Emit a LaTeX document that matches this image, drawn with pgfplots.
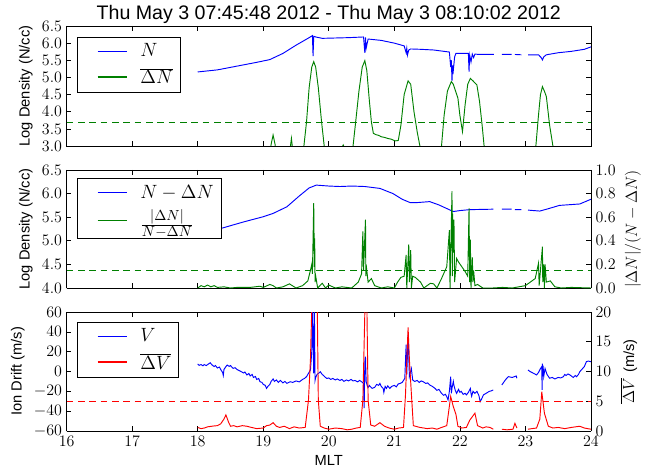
\documentclass[border=0pt]{standalone}
\usepackage{fontspec}
\newfontfamily\sans{Liberation Sans}
\usepackage{pgfplots}
\pgfplotsset{compat=1.18}
\definecolor{mblue}{RGB}{0,0,255}
\definecolor{mgreen}{RGB}{0,128,0}
\definecolor{mred}{RGB}{255,0,0}

\pgfplotsset{
  panel/.style={
    scale only axis, width=393.2pt,
    xmin=16, xmax=24, xtick={16,17,...,24},
    tick align=inside, major tick length=3.5pt,
    every tick/.style={black, line width=0.5pt},
    axis line style={line width=0.6pt},
    tick label style={font=\fontsize{12}{14}\selectfont},
    label style={font=\sans\fontsize{11}{13}\selectfont},
    unbounded coords=jump,
    every axis plot/.append style={line width=0.7pt},
    legend cell align=left,
    legend style={draw=black, line width=0.6pt, fill=white,
      font=\fontsize{15.5}{18}\selectfont, anchor=north west,
      inner xsep=5.5pt, inner ysep=4pt, row sep=5pt,
      nodes={inner xsep=0pt, inner ysep=1pt}},
    legend image code/.code={\draw[#1, line width=1.2pt] (0pt,0pt) -- (22pt,0pt);
      \path[draw=none, fill=none] (-10pt,0pt) -- (32pt,0pt);},
  },
  onedec/.style={yticklabel style={/pgf/number format/.cd, fixed, fixed zerofill, precision=1}},
}

\begin{document}
\begin{tikzpicture}

% ---------- top: N and mean dN ----------
\begin{axis}[panel, onedec, at={(50pt,243.75pt)}, anchor=south west, height=90pt,
  ymin=3, ymax=6.5, ytick={3,3.5,4,4.5,5,5.5,6,6.5}, xticklabels={},
  ylabel={Log Density (N/cc)},
  title={Thu May 3 07:45:48 2012 - Thu May 3 08:10:02 2012},
  every axis title/.style={at={(0.5,1)}, anchor=base, yshift=4.5pt,
    font=\sans\fontsize{14.7}{17}\selectfont},
  legend style={at={(0.019,0.911)}}]
\addplot[mblue, forget plot] coordinates {
(18.0,5.16)(18.3,5.22)(18.6,5.33)(18.9,5.44)(19.1,5.52)(19.3,5.70)(19.5,5.94)
(19.7,6.16)(19.75,6.22)(19.76,5.62)(19.77,6.20)(19.8,6.18)(19.9,6.14)(20.1,6.15)
(20.3,6.16)(20.53,6.18)(20.55,5.72)(20.56,6.17)(20.57,5.85)(20.6,6.12)(20.8,6.08)
(21.0,6.00)(21.15,5.92)(21.18,5.72)(21.19,5.85)(21.2,5.65)(21.22,5.80)(21.25,5.83)
(21.4,5.82)(21.6,5.80)(21.84,5.74)(21.86,5.30)(21.87,5.50)(21.88,4.90)(21.89,5.35)
(21.9,5.20)(21.92,5.60)(21.94,5.70)(22.1,5.70)(22.13,5.70)(22.14,5.17)(22.15,5.65)
(22.17,5.45)(22.19,5.68)(22.21,5.58)(22.23,5.68)(22.3,5.67)(22.52,5.67)(22.53,nan)
(22.64,5.67)(22.79,5.67)(22.80,nan)(22.84,5.67)(22.94,5.66)(22.95,nan)
(23.04,5.66)(23.2,5.66)(23.24,5.58)(23.26,5.51)(23.28,5.60)(23.32,5.66)(23.5,5.72)
(23.7,5.76)(23.9,5.82)(24.0,5.89)};
\addplot[mgreen, forget plot] coordinates {
(18.0,2.0)(19.05,2.0)(19.12,3.05)(19.15,3.32)(19.18,3.05)(19.25,2.0)(19.38,2.5)
(19.43,3.22)(19.47,2.5)(19.55,2.0)(19.58,2.5)(19.62,3.0)(19.66,3.7)(19.70,4.7)
(19.74,5.3)(19.77,5.46)(19.80,5.3)(19.84,4.7)(19.89,3.7)(19.93,3.0)(19.96,2.5)
(20.05,2.0)(20.19,2.9)(20.22,3.03)(20.25,2.9)(20.30,2.0)(20.33,2.5)(20.37,3.0)
(20.41,3.7)(20.46,4.6)(20.51,5.3)(20.55,5.49)(20.58,5.2)(20.62,4.3)(20.65,3.7)
(20.68,3.37)(20.72,3.33)(20.76,3.31)(20.8,3.27)(20.85,3.25)(20.9,3.22)(20.95,3.20)
(21.0,3.16)(21.02,3.15)(21.06,3.16)(21.1,3.6)
(21.15,4.5)(21.21,4.90)(21.25,4.8)(21.3,4.0)(21.35,3.4)(21.39,3.0)(21.42,2.5)
(21.55,2.0)(21.69,2.6)(21.72,3.0)(21.76,3.9)(21.81,4.6)(21.87,4.88)(21.9,4.8)
(21.97,4.4)(22.0,3.9)(22.04,3.42)(22.08,4.2)(22.12,4.8)(22.16,4.97)(22.2,4.9)
(22.26,4.78)(22.3,4.3)(22.34,3.6)(22.37,3.0)(22.4,2.5)(22.5,2.0)(23.05,2.0)
(23.12,2.5)(23.16,3.0)(23.2,3.9)(23.23,4.5)(23.26,4.73)(23.29,4.6)(23.32,4.44)
(23.37,3.6)(23.42,3.0)(23.45,2.5)(23.55,2.0)(24.0,2.0)};
\addplot[mgreen, dash pattern=on 5pt off 3.5pt, forget plot] coordinates {(16,3.7)(24,3.7)};
\addlegendimage{mblue}
\addlegendentry{$N$}
\addlegendimage{mgreen}
\addlegendentry{$\overline{\Delta N}$}
\end{axis}

% ---------- middle: N - dN (left) ----------
\begin{axis}[panel, onedec, at={(50pt,137.25pt)}, anchor=south west, height=88.5pt,
  ymin=4, ymax=6.5, ytick={4,4.5,5,5.5,6,6.5}, xticklabels={},
  axis y line*=left, ylabel={Log Density (N/cc)}]
\addplot[mblue] coordinates {
(18.0,5.15)(18.35,5.26)(18.7,5.40)(19.0,5.51)(19.15,5.58)(19.36,5.72)(19.55,5.95)
(19.7,6.12)(19.81,6.18)(20.0,6.16)(20.17,6.15)(20.35,6.16)(20.55,6.15)(20.78,6.11)
(20.98,6.00)(21.12,5.88)(21.24,5.81)(21.35,5.81)(21.54,5.83)(21.68,5.76)(21.9,5.62)
(22.0,5.64)(22.15,5.66)(22.51,5.67)(22.52,nan)(22.64,5.67)(22.79,5.67)(22.80,nan)
(22.84,5.66)(22.94,5.66)(22.95,nan)(23.04,5.65)(23.22,5.63)(23.35,5.68)(23.52,5.75)
(23.83,5.78)(24.0,5.88)};
\addplot[mgreen, dash pattern=on 5pt off 3.5pt] coordinates {(16,4.38)(24,4.38)};
\end{axis}

% ---------- middle: |dN|/(N-dN) (right) ----------
\begin{axis}[panel, onedec, at={(50pt,137.25pt)}, anchor=south west, height=88.5pt,
  ymin=0, ymax=1, ytick={0,0.2,0.4,0.6,0.8,1.0},
  axis x line=none, axis y line*=right, ylabel near ticks,
  ylabel={$|\Delta N|/(N-\Delta N)$},
  ylabel style={font=\fontsize{12.5}{14}\selectfont},
  legend style={at={(0.019,0.932)}}]
\addlegendimage{mblue}
\addlegendentry{$N-\Delta N$}
\addplot[mgreen] coordinates {
(18.0,0.0)(18.05,0.02)(18.1,0.01)(18.15,0.025)(18.2,0.01)(18.25,0.02)(18.3,0.005)
(18.4,0.01)(18.5,0.0)(18.6,0.005)(18.8,0.005)(18.95,0.015)(19.0,0.005)(19.1,0.03)
(19.15,0.02)(19.2,0.0)(19.3,0.01)(19.4,0.035)(19.5,0.0)(19.6,0.02)(19.68,0.06)
(19.72,0.15)(19.74,0.20)(19.75,0.12)(19.77,0.72)(19.78,0.18)(19.785,0.42)(19.79,0.05)
(19.8,0.1)(19.83,0.0)(19.9,0.04)(19.95,0.0)(20.0,0.025)(20.1,0.0)(20.2,0.01)
(20.35,0.0)(20.45,0.05)(20.5,0.12)(20.52,0.48)(20.53,0.15)(20.56,0.58)(20.565,0.1)
(20.57,0.2)(20.6,0.05)(20.65,0.08)(20.7,0.02)(20.8,0.0)(20.9,0.01)(21.0,0.0)
(21.05,0.05)(21.1,0.09)(21.15,0.1)(21.18,0.28)(21.19,0.0)(21.22,0.37)(21.23,0.05)
(21.25,0.32)(21.26,0.0)(21.28,0.1)(21.32,0.09)(21.4,0.05)(21.45,0.0)(21.55,0.04)
(21.6,0.035)(21.65,0.0)(21.72,0.08)(21.8,0.18)(21.84,0.49)(21.85,0.0)(21.88,0.82)
(21.885,0.1)(21.89,0.63)(21.9,0.3)(21.91,0.58)(21.92,0.05)(21.95,0.25)(21.98,0.22)
(22.03,0.18)(22.08,0.14)(22.12,0.1)(22.14,0.675)(22.15,0.05)(22.16,0.41)(22.17,0.0)
(22.19,0.26)(22.2,0.05)(22.21,0.15)(22.23,0.02)(22.27,0.03)(22.35,0.0)(22.5,0.0)
(22.65,0.005)(22.8,0.0)(23.0,0.02)(23.1,0.06)(23.15,0.08)(23.2,0.21)(23.21,0.02)
(23.26,0.35)(23.265,0.05)(23.28,0.2)(23.29,0.0)(23.3,0.2)(23.32,0.05)(23.38,0.06)
(23.45,0.01)(23.55,0.0)(23.7,0.005)(24.0,0.0)};
\addlegendentry{$\frac{|\Delta N|}{N-\Delta N}$}
\end{axis}

% ---------- bottom: V (left) ----------
\begin{axis}[panel, at={(50pt,30pt)}, anchor=south west, height=89.25pt,
  ymin=-60, ymax=60, ytick={-60,-40,...,60},
  axis y line*=left, ylabel={Ion Drift (m/s)}, xlabel={MLT}]
\addplot[mblue] coordinates {
(18.0,7.6)(18.02,6.2)(18.05,7.0)(18.08,5.8)(18.1,7.0)(18.13,6.0)(18.16,7.4)(18.19,8.8)
(18.22,6.5)(18.25,5)(18.27,6)(18.3,3.5)(18.33,4.5)(18.36,1)(18.38,-1)(18.39,-4)
(18.4,2)(18.43,5)(18.45,6.5)(18.48,5.2)(18.5,6)(18.52,4.5)(18.54,3.2)(18.57,3.8)
(18.6,2)(18.63,1)(18.66,0)(18.7,-1.5)(18.72,-0.5)(18.75,-3.5)(18.78,-2)(18.8,-4.5)
(18.83,-3)(18.85,-6)(18.88,-5)(18.9,-8)(18.93,-7)(18.95,-10.3)(18.98,-11)(19.0,-13)
(19.03,-14)(19.05,-17)(19.07,-15)(19.1,-13)(19.12,-10)(19.15,-7.5)(19.17,-10)
(19.2,-8.5)(19.23,-11)(19.26,-9)(19.3,-11.5)(19.33,-10)(19.36,-12)(19.41,-10.3)
(19.45,-11)(19.5,-9.5)(19.55,-10.5)(19.6,-8)(19.63,-7)(19.66,-5.2)(19.72,1.5)
(19.74,20)(19.75,65)(19.77,-2)(19.78,65)(19.79,-9)(19.8,-6)(19.82,-3)(19.85,-1.5)
(19.87,-0.2)(19.9,-3)(19.92,-4)(19.95,-6)(19.97,-7)(20.0,-6.5)(20.03,-8)(20.06,-7)
(20.1,-8.5)(20.13,-7.5)(20.17,-9)(20.2,-8)(20.23,-10)(20.27,-8.5)(20.3,-9.5)
(20.34,-8)(20.37,-9.5)(20.4,-9)(20.44,-10.5)(20.47,-9)(20.5,-10.3)(20.53,-12)
(20.54,-37)(20.55,10)(20.56,15)(20.57,-10)(20.59,-15)(20.6,-16)(20.62,-14)
(20.63,-15)(20.66,-17)(20.7,-16)(20.73,-13)(20.76,-14)(20.78,-12)(20.8,-15)
(20.83,-17)(20.84,-21)(20.86,-15)(20.88,-17)(20.9,-14.5)(20.93,-17)(20.96,-15)
(21.0,-14)(21.03,-15.5)(21.06,-12.5)(21.09,-12)(21.12,-11)(21.14,-9)(21.16,-6.8)
(21.18,27)(21.19,-3)(21.21,37)(21.23,-5)(21.26,3)(21.28,-8.5)(21.31,-10)(21.35,-9)
(21.38,-11)(21.41,-9.5)(21.44,-10.3)(21.48,-12)(21.51,-11.5)(21.54,-13.6)(21.58,-15)
(21.62,-17)(21.65,-19)(21.68,-18)(21.72,-22)(21.75,-24)(21.78,-23)(21.80,-25.4)
(21.82,-28.7)(21.84,-20)(21.86,-5.2)(21.87,-22)(21.88,-17)(21.9,-10)(21.91,-14)
(21.93,-19)(21.95,-22)(21.98,-18)(22.0,-21)(22.02,-20)(22.05,-23)(22.08,-22)
(22.10,-23.6)(22.13,-21)(22.16,-17)(22.17,-22)(22.18,-25)(22.2,-20)(22.23,-22)
(22.26,-20)(22.29,-24)(22.31,-30.4)(22.33,-28)(22.36,-23.6)(22.4,-22)(22.45,-20)
(22.48,-19.5)(22.51,-18.6)(22.52,nan)
(22.64,-13.6)(22.7,-8)(22.74,-5.2)(22.8,-6)(22.86,-4.5)(22.87,-6.8)(22.88,nan)
(23.04,1.5)(23.07,0)(23.1,-1)(23.13,-2)(23.17,-3.5)(23.2,-1)(23.23,3)(23.25,4.9)
(23.255,-18.6)(23.26,8)(23.265,-5)(23.27,6)(23.28,-5)(23.3,3)(23.33,-3)(23.37,-6.8)
(23.41,-6)(23.45,-7.5)(23.5,-6)(23.54,-6.5)(23.58,-5.2)(23.6,-3)(23.62,-4)
(23.65,-2.5)(23.68,-3.5)(23.71,-5)(23.73,-6)(23.76,-4)(23.78,-5.2)(23.81,-3)
(23.83,-0.2)(23.86,2)(23.9,5)(23.93,9.9)(23.96,10.5)(24.0,9.9)};
\end{axis}

% ---------- bottom: mean dV (right) ----------
\begin{axis}[panel, at={(50pt,30pt)}, anchor=south west, height=89.25pt,
  ymin=0, ymax=20, ytick={0,5,10,15,20},
  axis x line=none, axis y line*=right, ylabel near ticks,
  ylabel={$\overline{\Delta V}$ {\sans\fontsize{11}{13}\selectfont (m/s)}},
  ylabel style={font=\fontsize{12.5}{14}\selectfont},
  legend style={at={(0.019,0.918)}}]
\addlegendimage{mblue}
\addlegendentry{$V$}
\addplot[mred] coordinates {
(18.0,0.6)(18.05,0.4)(18.1,0.5)(18.15,0.7)(18.24,0.84)(18.3,0.9)(18.35,1.2)
(18.4,2.0)(18.43,2.7)(18.47,1.5)(18.5,0.8)(18.55,0.9)(18.6,0.7)(18.68,0.9)
(18.75,0.8)(18.82,0.6)(18.9,0.4)(19.0,0.5)(19.05,0.9)(19.1,1.0)(19.15,1.4)
(19.2,0.8)(19.25,0.6)(19.32,0.8)(19.4,0.4)(19.47,0.7)(19.55,0.5)(19.64,0.6)
(19.69,5.2)(19.72,12)(19.75,25)(19.82,25)(19.84,5.2)(19.87,0.8)(19.93,0.5)
(20.0,0.3)(20.1,0.5)(20.2,0.4)(20.28,0.2)(20.35,0.3)(20.42,0.5)(20.48,0.6)
(20.52,5.2)(20.54,15)(20.56,25)(20.58,22)(20.60,5.2)(20.64,1.0)(20.7,0.8)
(20.78,1.4)(20.85,0.8)(20.92,0.5)(21.0,0.3)(21.07,0.5)(21.14,0.6)(21.17,6)
(21.21,17.4)(21.23,12)(21.26,6.3)(21.29,0.9)(21.39,0.6)(21.45,0.5)(21.5,0.4)
(21.58,0.5)(21.65,0.3)(21.72,0.6)(21.80,0.9)(21.86,5.8)(21.90,4.1)(21.94,2.8)
(21.97,0.8)(22.03,0.5)(22.1,0.6)(22.15,1.8)(22.23,3.0)(22.27,0.9)(22.35,0.5)
(22.4,0.7)(22.46,0.6)(22.51,0.3)(22.52,nan)(22.64,0.3)(22.72,0.2)(22.81,0.3)
(22.84,1.3)(22.87,0.5)(22.88,nan)
(23.04,0.3)(23.1,0.4)(23.17,0.5)(23.22,2)(23.25,6.6)(23.29,3.0)(23.35,0.8)
(23.42,0.5)(23.5,0.6)(23.6,0.4)(23.7,0.6)(23.83,0.8)(23.9,0.5)(24.0,0.3)};
\addlegendentry{$\overline{\Delta V}$}
\addplot[mred, dash pattern=on 5pt off 3.5pt, forget plot] coordinates {(16,5)(24,5)};
\end{axis}

\pgfresetboundingbox
\path[use as bounding box] (0,0) rectangle (483.75pt,353.25pt);
\end{tikzpicture}
\end{document}
